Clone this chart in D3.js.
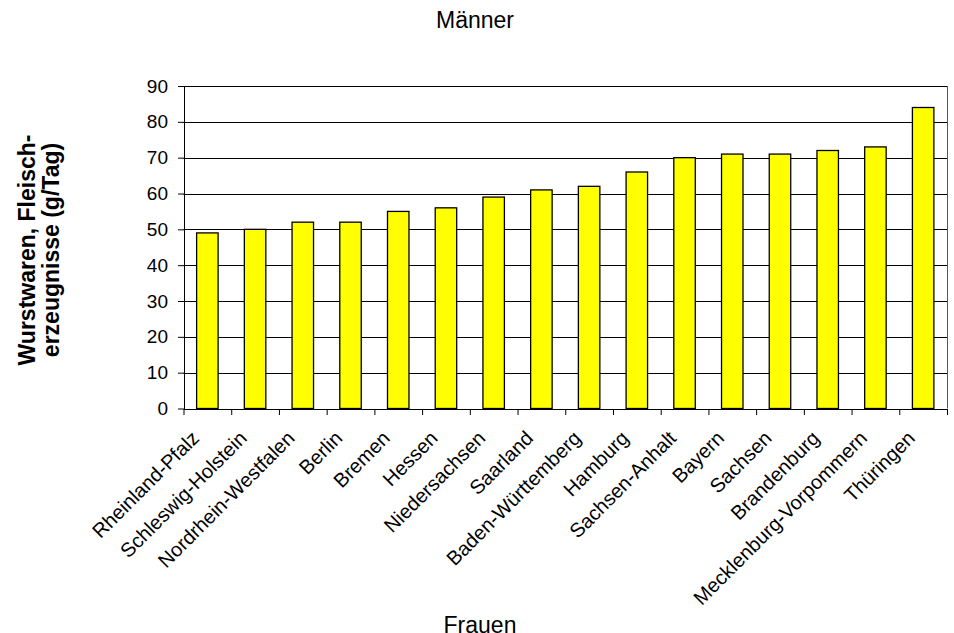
<!DOCTYPE html>
<html>
<head>
<meta charset="utf-8">
<script src="https://cdn.jsdelivr.net/npm/d3@7"></script>
<style>
  html, body { margin: 0; padding: 0; background: #fff; }
  svg { display: block; font-family: Arial, "Liberation Sans", sans-serif; }
</style>
</head>
<body>
<svg id="chart" width="954" height="633"></svg>
<script>
const categories = ["Rheinland-Pfalz", "Schleswig-Holstein", "Nordrhein-Westfalen", "Berlin", "Bremen", "Hessen", "Niedersachsen", "Saarland", "Baden-Württemberg", "Hamburg", "Sachsen-Anhalt", "Bayern", "Sachsen", "Brandenburg", "Mecklenburg-Vorpommern", "Thüringen"];
const values = [49, 50, 52, 52, 55, 56, 59, 61, 62, 66, 70, 71, 71, 72, 73, 84];
const yTicks = [0, 10, 20, 30, 40, 50, 60, 70, 80, 90];
const titleText = "Männer";
const xTitleText = "Frauen";
const yTitleLines = ["Wurstwaren, Fleisch-", "erzeugnisse (g/Tag)"];

const svg = d3.select("#chart");
const plotLeft = 183.5, plotRight = 947, plotTop = 86, plotBottom = 408.5;

const x = d3.scaleBand().domain(categories).range([plotLeft, plotRight]).paddingInner(0.55).paddingOuter(0.275);
const xEdges = d3.scaleLinear().domain([0, categories.length]).range([plotLeft, plotRight]);
const y = d3.scaleLinear().domain([0, 90]).range([plotBottom, plotTop]);

// gridlines
svg.append("g").selectAll("line").data(yTicks.filter(d => d > 0)).join("line")
  .attr("x1", plotLeft).attr("x2", plotRight)
  .attr("y1", d => Math.round(y(d)) + 0.5).attr("y2", d => Math.round(y(d)) + 0.5)
  .attr("stroke", "#000").attr("stroke-width", 1);

// right border
svg.append("line").attr("x1", plotRight + 0.5).attr("x2", plotRight + 0.5).attr("y1", plotTop).attr("y2", plotBottom)
  .attr("stroke", "#555").attr("stroke-width", 1);

// bars
svg.append("g").selectAll("rect").data(values).join("rect")
  .attr("x", (d, i) => x(categories[i]))
  .attr("width", x.bandwidth())
  .attr("y", d => y(d))
  .attr("height", d => y(0) - y(d))
  .attr("fill", "#FFFF00")
  .attr("stroke", "#000").attr("stroke-width", 1.3);

// y axis
const yAxis = svg.append("g").attr("transform", `translate(${plotLeft + 0.5},0)`)
  .call(d3.axisLeft(y).tickValues(yTicks).tickSize(6).tickPadding(10).tickSizeOuter(0));
yAxis.select(".domain").attr("stroke", "#000");
yAxis.selectAll("text").attr("font-size", 19).attr("fill", "#000").attr("font-family", "Arial, 'Liberation Sans', sans-serif");

// x axis line and ticks at category boundaries
const xAxis = svg.append("g").attr("transform", `translate(0,${plotBottom + 0.5})`)
  .call(d3.axisBottom(xEdges).tickValues(d3.range(0, categories.length + 1)).tickSize(6).tickFormat("").tickSizeOuter(0));
xAxis.select(".domain").attr("stroke", "#000");

// category labels
svg.append("g").selectAll("text").data(categories).join("text")
  .attr("transform", d => `translate(${x(d) + x.bandwidth() / 2 - 7},${plotBottom + 31}) rotate(-45)`)
  .attr("text-anchor", "end")
  .attr("font-size", 20)
  .attr("fill", "#000")
  .text(d => d);

// title
svg.append("text").attr("x", 475).attr("y", 28).attr("text-anchor", "middle")
  .attr("font-size", 23).attr("fill", "#000").text(titleText);

// x title
svg.append("text").attr("x", 480).attr("y", 633).attr("text-anchor", "middle")
  .attr("font-size", 23).attr("fill", "#000").text(xTitleText);

// y title
const yt = svg.append("text").attr("transform", "translate(35,250) rotate(-90)")
  .attr("text-anchor", "middle").attr("font-size", 23).attr("font-weight", "bold").attr("fill", "#000");
yt.selectAll("tspan").data(yTitleLines).join("tspan")
  .attr("x", 0).attr("dy", (d, i) => i === 0 ? 0 : 24).text(d => d);
</script>
</body>
</html>
